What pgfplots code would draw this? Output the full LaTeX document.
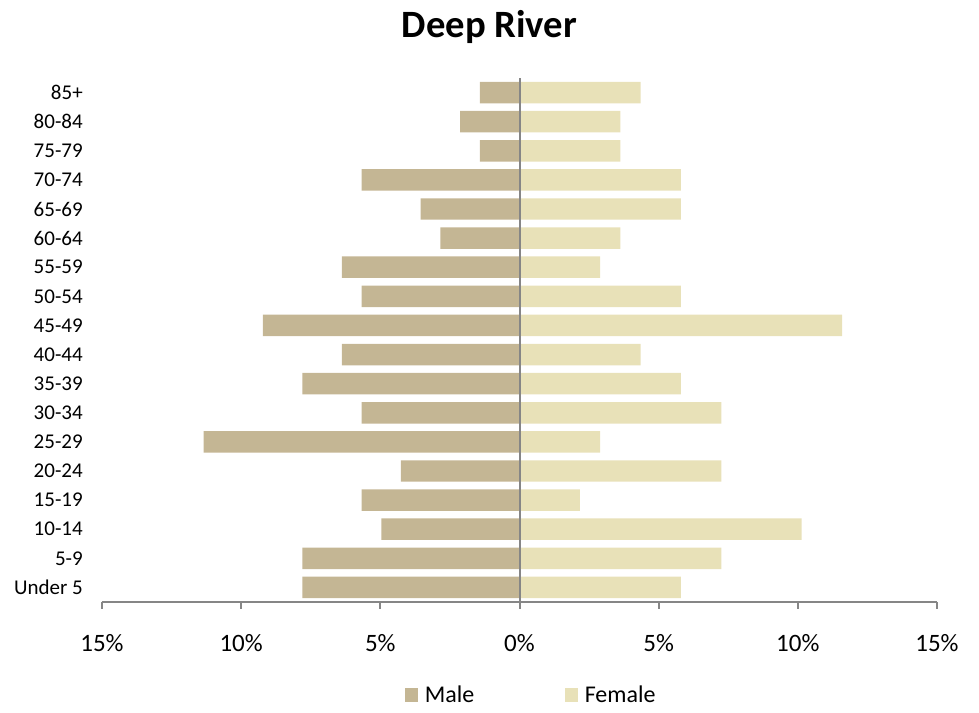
\documentclass[border=0pt]{standalone}
\usepackage{pgfplots}
\pgfplotsset{compat=1.18}
\usepackage{fontspec}
\setmainfont{Carlito}
\definecolor{male}{HTML}{C4B694}
\definecolor{female}{HTML}{E8E1B8}
\definecolor{axgray}{HTML}{868686}

\begin{document}
\begin{tikzpicture}
\useasboundingbox (-76.5pt,-83.25pt) rectangle (657.75pt,451.5pt);
\begin{axis}[
    at={(0pt,0pt)}, anchor=south west,
    scale only axis, width=626.25pt, height=393pt,
    xbar, bar width=16.1pt, bar shift=0pt,
    xmin=-15, xmax=15, ymin=-0.5, ymax=17.5,
    xtick={-15,-10,...,15},
    xticklabel={\pgfmathparse{abs(\tick)}\pgfmathprintnumber{\pgfmathresult}\%},
    ytick={0,...,17},
    yticklabels={Under 5,5-9,10-14,15-19,20-24,25-29,30-34,35-39,40-44,
        45-49,50-54,55-59,60-64,65-69,70-74,75-79,80-84,85+},
    axis x line*=bottom, axis y line*=left,
    y axis line style={draw=none},
    x axis line style={axgray, line width=1.5pt},
    xtick align=outside, major tick length=5.25pt,
    xtick style={axgray, line width=1.5pt},
    ytick style={draw=none},
    /pgf/number format/assume math mode=true,
    xticklabel style={font=\fontsize{18.75}{20}\selectfont, anchor=center,
        inner sep=0pt, yshift=-25.5pt},
    yticklabel style={font=\fontsize{15.75}{18}\selectfont, anchor=east,
        inner sep=0pt, xshift=-9pt},
    legend columns=2,
    legend style={at={(0.3629,-0.1775)}, anchor=west, draw=none, fill=none,
        inner sep=0pt, font=\fontsize{18}{20}\selectfont,
        /tikz/every even column/.append style={column sep=66pt}},
    legend image code/.code={\fill[#1] (0pt,-5pt) rectangle (9.75pt,5pt);
        \path (12.75pt,0pt);},
]
% male shares (negative), Under 5 ... 85+
\addplot[fill=male, draw=none] coordinates {
    (-7.80,0) (-7.80,1) (-4.96,2) (-5.67,3) (-4.26,4) (-11.35,5)
    (-5.67,6) (-7.80,7) (-6.38,8) (-9.22,9) (-5.67,10) (-6.38,11)
    (-2.84,12) (-3.55,13) (-5.67,14) (-1.42,15) (-2.13,16) (-1.42,17)};
\addlegendentry{Male}
\addplot[fill=female, draw=none] coordinates {
    (5.80,0) (7.25,1) (10.14,2) (2.17,3) (7.25,4) (2.90,5)
    (7.25,6) (5.80,7) (4.35,8) (11.59,9) (5.80,10) (2.90,11)
    (3.62,12) (5.80,13) (5.80,14) (3.62,15) (3.62,16) (4.35,17)};
\addlegendentry{Female}
\draw[axgray, line width=1.5pt] (axis cs:0,-0.5) -- (axis cs:0,17.5);
\end{axis}
\node[font=\fontsize{29}{34}\selectfont\bfseries] at (290.6pt,431.25pt) {Deep River};
\end{tikzpicture}
\end{document}
